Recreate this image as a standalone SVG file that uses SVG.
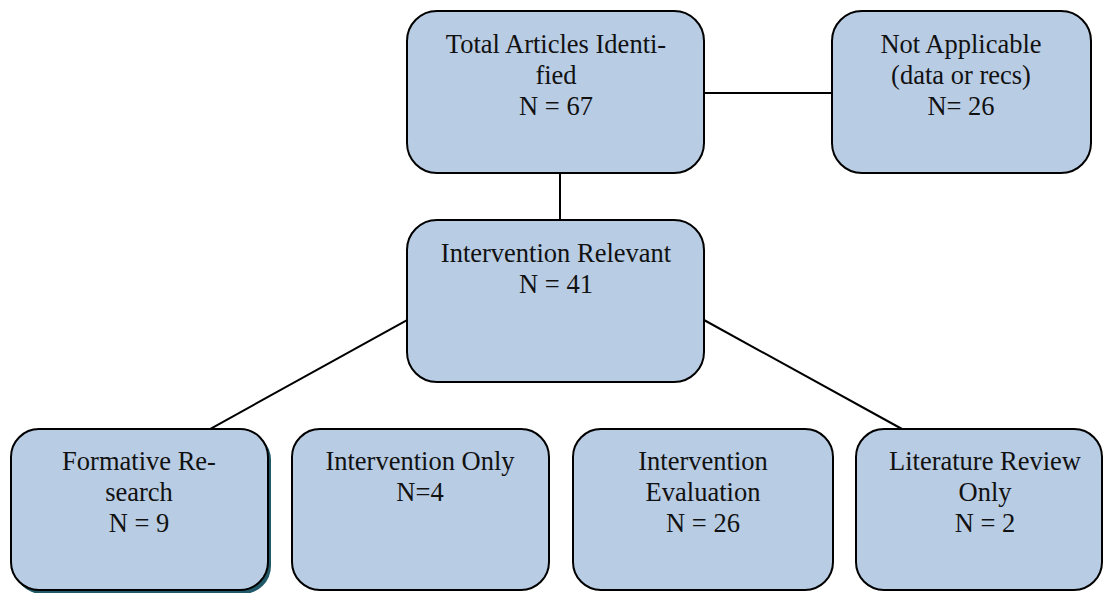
<svg xmlns="http://www.w3.org/2000/svg" width="1104" height="593" viewBox="0 0 1104 593">
<style>
.box{fill:#b8cce4;stroke:#000;stroke-width:2}
.shadow{fill:#215968;stroke:none}
.t{font-family:"Liberation Serif","Times New Roman",serif;font-size:26.5px;fill:#111;text-anchor:middle}
.c{stroke:#000;stroke-width:2;fill:none}
</style>
<rect width="1104" height="593" fill="#fff"/>
<g id="connectors">
<line class="c" x1="704" y1="93" x2="832" y2="93"/>
<line class="c" x1="560" y1="173" x2="560" y2="220"/>
<line class="c" x1="407" y1="320" x2="210" y2="429"/>
<line class="c" x1="704" y1="320" x2="902" y2="429"/>
</g>
<g id="total">
<rect class="box" x="407" y="11" width="297" height="162" rx="30"/>
<text class="t" x="556" y="53">Total Articles Identi-</text>
<text class="t" x="556" y="84">fied</text>
<text class="t" x="556" y="115">N = 67</text>
</g>
<g id="notapplicable">
<rect class="box" x="832" y="11" width="259" height="162" rx="30"/>
<text class="t" x="961" y="53">Not Applicable</text>
<text class="t" x="961" y="84">(data or recs)</text>
<text class="t" x="961" y="115">N= 26</text>
</g>
<g id="relevant">
<rect class="box" x="407" y="220" width="297" height="162" rx="30"/>
<text class="t" x="556" y="262">Intervention Relevant</text>
<text class="t" x="556" y="293">N = 41</text>
</g>
<g id="formative">
<rect class="shadow" x="14" y="432" width="257" height="162" rx="28"/>
<rect class="box" x="11" y="429" width="257" height="161" rx="28"/>
<text class="t" x="139" y="470">Formative Re-</text>
<text class="t" x="139" y="501">search</text>
<text class="t" x="139" y="532">N = 9</text>
</g>
<g id="intonly">
<rect class="box" x="292" y="429" width="257" height="161" rx="28"/>
<text class="t" x="420" y="470">Intervention Only</text>
<text class="t" x="420" y="501">N=4</text>
</g>
<g id="inteval">
<rect class="box" x="573" y="429" width="260" height="161" rx="28"/>
<text class="t" x="703" y="470">Intervention</text>
<text class="t" x="703" y="501">Evaluation</text>
<text class="t" x="703" y="532">N = 26</text>
</g>
<g id="litreview">
<rect class="box" x="856" y="429" width="246" height="161" rx="28"/>
<text class="t" x="985" y="470">Literature Review</text>
<text class="t" x="985" y="501">Only</text>
<text class="t" x="985" y="532">N = 2</text>
</g>
</svg>
